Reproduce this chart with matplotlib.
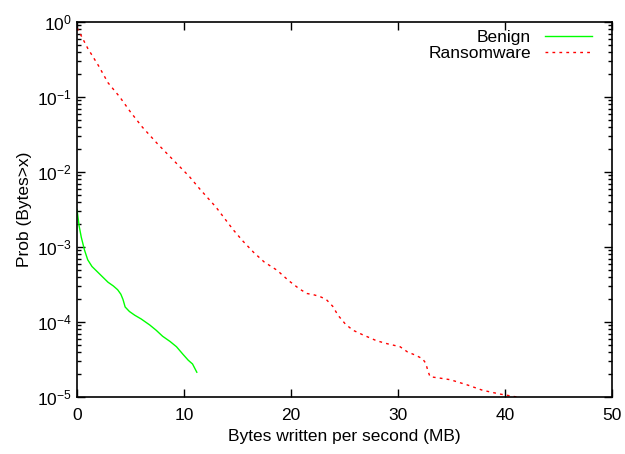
import matplotlib
matplotlib.use("Agg")
import matplotlib.pyplot as plt
import numpy as np

plt.rcParams['font.family'] = ['Liberation Sans', 'DejaVu Sans']

# CCDF of bytes written per second
benign_x = [0.0, 0.2, 0.4, 0.7, 1.0, 1.4, 1.9, 2.4, 2.9, 3.4, 3.8, 4.1, 4.3, 4.5, 4.9,
            5.4, 6.0, 6.8, 7.4, 8.0, 8.7, 9.3, 9.9, 10.4, 10.8, 11.2]
benign_logy = [-2.50, -2.72, -2.87, -3.04, -3.17, -3.26, -3.33, -3.40, -3.47, -3.52, -3.57,
               -3.63, -3.70, -3.80, -3.86, -3.91, -3.96, -4.04, -4.11, -4.19, -4.26, -4.33,
               -4.43, -4.51, -4.56, -4.67]

ransom_x = [0.0, 0.2, 1.0, 2.0, 2.9, 4.0, 5.0, 6.1, 7.5, 9.2, 10.5, 11.5, 13.0, 14.6,
            15.5, 16.5, 17.5, 18.7, 19.8, 20.8, 21.5, 22.2, 22.7, 23.3, 23.9, 24.4,
            25.1, 25.8, 26.7, 28.0, 29.0, 30.2, 30.9, 31.6, 32.3, 32.6, 32.8, 33.0,
            34.0, 34.9, 36.5, 37.9, 39.5, 41.1]
ransom_logy = [-0.08, -0.13, -0.35, -0.58, -0.81, -1.00, -1.20, -1.40, -1.62, -1.87,
               -2.06, -2.23, -2.47, -2.77, -2.92, -3.07, -3.20, -3.31, -3.45, -3.56,
               -3.62, -3.64, -3.66, -3.70, -3.79, -3.91, -4.03, -4.11, -4.17, -4.25,
               -4.29, -4.33, -4.40, -4.44, -4.49, -4.55, -4.65, -4.73, -4.75, -4.77,
               -4.84, -4.91, -4.96, -5.00]

fig = plt.figure(figsize=(6.25, 4.54), dpi=100)
ax = fig.add_axes([0.1232, 0.1256, 0.8558, 0.8259])

ax.plot(benign_x, 10 ** np.array(benign_logy), color='#00ff00', lw=1.0, label='Benign')
ax.plot(ransom_x, 10 ** np.array(ransom_logy), color='#ff0000', lw=1.0,
        linestyle=(0, (2, 3)), label='Ransomware')

ax.set_yscale('log')
ax.set_xlim(0, 50)
ax.set_ylim(1e-5, 1)
ax.set_xticks([0, 10, 20, 30, 40, 50])
ax.tick_params(which='both', direction='in', top=True, right=True, labelsize=12.5)
ax.tick_params(which='major', length=6, width=1)
ax.tick_params(which='minor', length=3, width=1)
ax.tick_params(axis='x', pad=8)
for s in ax.spines.values():
    s.set_linewidth(1.2)

ax.set_xlabel('Bytes written per second (MB)', fontsize=12.5)
ax.set_ylabel('Prob (Bytes>x)', fontsize=12.5)

ax.legend(loc='upper right', frameon=False, markerfirst=False, fontsize=12.5,
          handlelength=2.7, borderaxespad=0.2, borderpad=0.2, labelspacing=0.05,
          handletextpad=0.8, bbox_to_anchor=(0.975, 0.998))

fig.savefig('out.png', dpi=100)
